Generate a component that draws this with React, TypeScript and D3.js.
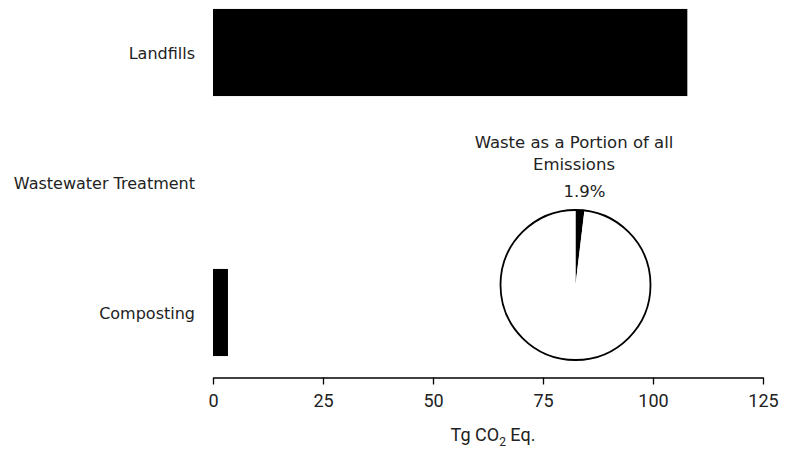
import { useEffect, useRef } from 'react';
import * as d3 from 'd3';

const categories = ['Landfills', 'Wastewater Treatment', 'Composting'];
const values = [107.8, 0, 3.4];
const xTicks = [0, 25, 50, 75, 100, 125];
const pieLabels = ['Waste', 'Other'];
const pieValues = [1.9, 98.1];
const pieTitle = ['Waste as a Portion of all', 'Emissions'];

const App = () => {
  const svgRef = useRef<SVGSVGElement>(null);

  useEffect(() => {
    const svg = d3.select(svgRef.current);
    svg.selectAll('*').remove();

    const labelFont = 'DejaVu Sans, Verdana, sans-serif';
    const axisFont = 'Roboto, sans-serif';

    const x = d3.scaleLinear().domain([0, 125]).range([213, 763]);
    const y = d3
      .scaleBand()
      .domain(categories)
      .range([-12.5, 377.5])
      .paddingInner(0.33)
      .paddingOuter(0.165);

    // bars
    svg
      .selectAll('rect.bar')
      .data(categories)
      .enter()
      .append('rect')
      .attr('class', 'bar')
      .attr('x', x(0))
      .attr('y', (d) => y(d)!)
      .attr('width', (d, i) => x(values[i]) - x(0))
      .attr('height', y.bandwidth())
      .attr('fill', '#000');

    // category labels
    svg
      .selectAll('text.cat')
      .data(categories)
      .enter()
      .append('text')
      .attr('x', 195)
      .attr('y', (d) => y(d)! + y.bandwidth() / 2 + 6)
      .attr('text-anchor', 'end')
      .style('font-family', labelFont)
      .style('font-size', '16px')
      .attr('fill', '#222')
      .text((d) => d);

    // x axis
    const xAxis = d3
      .axisBottom(x)
      .tickValues(xTicks)
      .tickSize(7)
      .tickPadding(10)
      .tickSizeOuter(0);
    const gx = svg
      .append('g')
      .attr('transform', `translate(0,377.5)`)
      .call(xAxis);
    gx.select('.domain').attr('stroke', '#000').attr('stroke-width', 1.3);
    gx.selectAll('.tick line').attr('stroke', '#000').attr('stroke-width', 1.3);
    gx.selectAll('.tick text')
      .style('font-family', axisFont)
      .style('font-size', '18px')
      .attr('fill', '#222');

    // axis title
    const title = svg
      .append('text')
      .attr('x', 493)
      .attr('y', 441)
      .attr('text-anchor', 'middle')
      .style('font-family', axisFont)
      .style('font-size', '18px')
      .attr('fill', '#222');
    title.append('tspan').text('Tg CO');
    title.append('tspan').attr('dy', 5).style('font-size', '12px').text('2');
    title.append('tspan').attr('dy', -5).text(' Eq.');

    // pie
    const cx = 575.5;
    const cy = 285;
    const r = 75;
    const pie = d3
      .pie<number>()
      .sort(null)
      .value((d) => d);
    const arcs = pie(pieValues);
    const arc = d3.arc<d3.PieArcDatum<number>>().innerRadius(0).outerRadius(r);
    const gp = svg.append('g').attr('transform', `translate(${cx},${cy})`);
    gp.selectAll('path')
      .data(arcs)
      .enter()
      .append('path')
      .attr('d', arc)
      .attr('fill', (d, i) => (i === 0 ? '#000' : '#fff'))
      .attr('stroke', 'none')
      .attr('data-label', (d, i) => pieLabels[i]);
    gp.append('circle')
      .attr('r', r)
      .attr('fill', 'none')
      .attr('stroke', '#000')
      .attr('stroke-width', 1.8);

    gp.append('text')
      .attr('x', 9)
      .attr('y', -88)
      .attr('text-anchor', 'middle')
      .style('font-family', labelFont)
      .style('font-size', '16.5px')
      .attr('fill', '#222')
      .text(`${pieValues[0]}%`);

    svg
      .selectAll('text.ptitle')
      .data(pieTitle)
      .enter()
      .append('text')
      .attr('x', 574)
      .attr('y', (d, i) => 148 + i * 22)
      .attr('text-anchor', 'middle')
      .style('font-family', labelFont)
      .style('font-size', '16.5px')
      .attr('fill', '#222')
      .text((d) => d);
  }, []);

  return (
    <svg
      ref={svgRef}
      width={785}
      height={453}
      style={{ position: 'absolute', left: 0, top: 0 }}
    ></svg>
  );
};

export default App;
